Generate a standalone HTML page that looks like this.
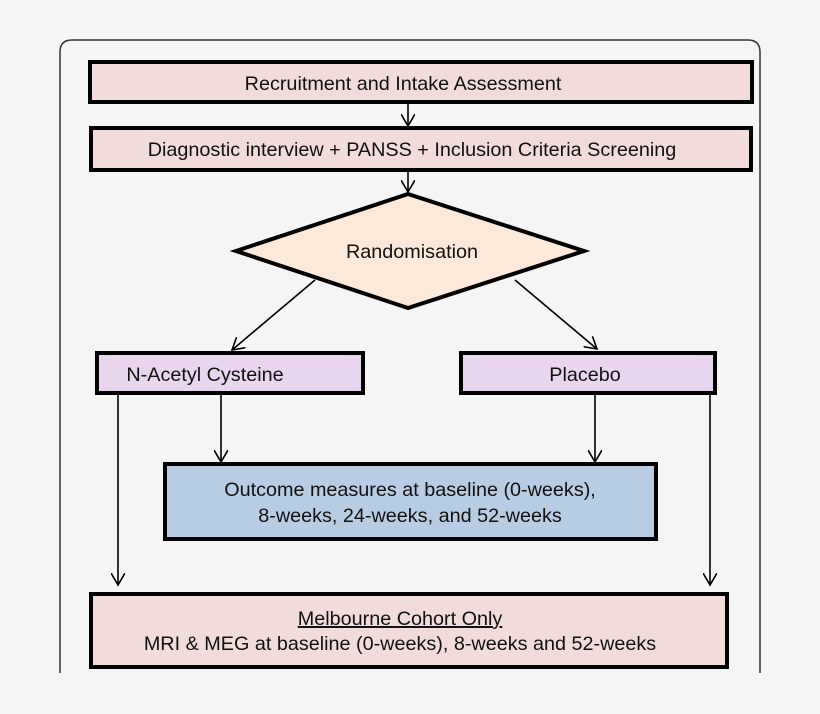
<!DOCTYPE html>
<html><head><style>
body{margin:0;background:#f5f5f5;}
svg{display:block}
text{font-family:"Liberation Sans",sans-serif;font-size:19.8px;fill:#111;text-anchor:middle}
</style></head><body>
<svg width="820" height="714" viewBox="0 0 820 714">
<defs><marker id="a" markerWidth="14" markerHeight="14" refX="12" refY="7" orient="auto" markerUnits="userSpaceOnUse"><path d="M0,0 L12,7 L0,14" fill="none" stroke="#000" stroke-width="1.6"/></marker></defs>
<path d="M60,673 V52 Q60,40 72,40 H748 Q760,40 760,52 V673" fill="none" stroke="#333" stroke-width="1.5"/>
<rect x="90" y="62" width="662" height="40" fill="#f2dcdb" stroke="#000" stroke-width="4"/>
<text x="403" y="90">Recruitment and Intake Assessment</text>
<rect x="91" y="128" width="660" height="42" fill="#f2dcdb" stroke="#000" stroke-width="4"/>
<text x="412" y="156">Diagnostic interview + PANSS + Inclusion Criteria Screening</text>
<polygon points="408,194 584,251 408,308 236,251" fill="#fde9d9" stroke="#000" stroke-width="4"/>
<text x="412" y="258">Randomisation</text>
<rect x="97" y="353" width="266" height="40" fill="#e8d5ee" stroke="#000" stroke-width="4"/>
<text x="205" y="381">N-Acetyl Cysteine</text>
<rect x="461" y="353" width="254" height="40" fill="#e8d5ee" stroke="#000" stroke-width="4"/>
<text x="585" y="381">Placebo</text>
<rect x="165" y="464" width="491" height="75" fill="#b8cce4" stroke="#000" stroke-width="4"/>
<text x="410" y="496">Outcome measures at baseline (0-weeks),</text>
<text x="410" y="522">8-weeks, 24-weeks, and 52-weeks</text>
<rect x="91" y="594" width="636" height="73" fill="#f2dcdb" stroke="#000" stroke-width="4"/>
<text x="400" y="625" text-decoration="underline">Melbourne Cohort Only</text>
<text x="400" y="650">MRI &amp; MEG at baseline (0-weeks), 8-weeks and 52-weeks</text>
<g stroke="#000" stroke-width="1.6" marker-end="url(#a)">
<line x1="408" y1="104" x2="408" y2="126"/>
<line x1="408" y1="172" x2="408" y2="192"/>
<line x1="315" y1="280" x2="232" y2="350"/>
<line x1="515" y1="280" x2="597" y2="349"/>
<line x1="118" y1="395" x2="118" y2="585"/>
<line x1="710" y1="395" x2="710" y2="585"/>
<line x1="221" y1="395" x2="221" y2="462"/>
<line x1="595" y1="395" x2="595" y2="462"/>
</g>
</svg>
</body></html>
